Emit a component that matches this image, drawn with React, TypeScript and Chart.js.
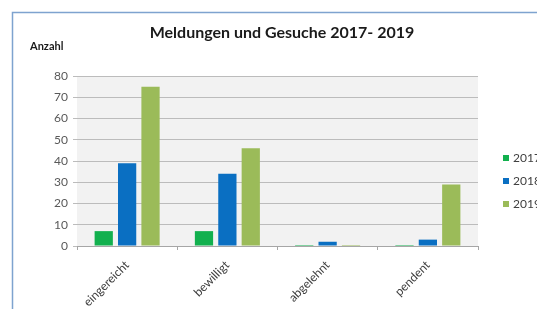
import React, { useEffect, useRef } from 'react';
import { Chart, registerables } from 'chart.js';

Chart.register(...registerables);

const chartTitle = 'Meldungen und Gesuche 2017- 2019';
const yAxisTitle = 'Anzahl';
const categories = ['eingereicht', 'bewilligt', 'abgelehnt', 'pendent'];
const seriesLabels = ['2017', '2018', '2019'];
const values2017 = [7, 7, 0, 0];
const values2018 = [39, 34, 2, 3];
const values2019 = [75, 46, 0, 29];
const yMin = 0;
const yMax = 80;
const yStep = 10;

const seriesColors = ['#12b04e', '#0a6fc2', '#9bbb59'];
const FONT = 'Lato, "Open Sans", "Liberation Sans", sans-serif';

const decorPlugin = {
  id: 'decor',
  beforeDraw(chart: any) {
    const { ctx, chartArea, width, height } = chart;
    ctx.save();
    ctx.fillStyle = '#ffffff';
    ctx.fillRect(0, 0, width, height);
    ctx.fillStyle = '#f2f2f2';
    ctx.fillRect(chartArea.left, chartArea.top, chartArea.right - chartArea.left, chartArea.bottom - chartArea.top);
    ctx.strokeStyle = '#7ea3cf';
    ctx.lineWidth = 1.5;
    ctx.beginPath();
    ctx.moveTo(12.5, height);
    ctx.lineTo(12.5, 12.5);
    ctx.lineTo(width, 12.5);
    ctx.stroke();
    ctx.restore();
  },
  afterDraw(chart: any) {
    const { ctx, chartArea } = chart;
    ctx.save();
    ctx.fillStyle = '#1a1a1a';
    ctx.textBaseline = 'middle';
    ctx.textAlign = 'center';
    ctx.font = 'bold 16px ' + FONT;
    ctx.fillText(chartTitle, 282, 33);
    ctx.textAlign = 'left';
    ctx.font = 'bold 11px ' + FONT;
    ctx.fillText(yAxisTitle, 30, 46);
    // legend
    ctx.font = '12px ' + FONT;
    const x0 = chartArea.right + 25;
    chart.data.datasets.forEach((ds: any, i: number) => {
      const cy = 158 + i * 23;
      ctx.fillStyle = ds.backgroundColor;
      ctx.fillRect(x0, cy - 3, 6, 6);
      ctx.fillStyle = '#404040';
      ctx.fillText(ds.label, x0 + 10, cy);
    });
    ctx.restore();
  },
};

export default function App() {
  const ref = useRef<HTMLCanvasElement | null>(null);
  useEffect(() => {
    if (!ref.current) return;
    const seriesValues = [values2017, values2018, values2019];
    const chart = new Chart(ref.current, {
      type: 'bar',
      data: {
        labels: categories,
        datasets: seriesLabels.map((label, i) => ({
          label,
          data: seriesValues[i],
          backgroundColor: seriesColors[i],
          borderWidth: 0,
          categoryPercentage: 0.7,
          barPercentage: 0.78,
          minBarLength: 1,
        })),
      },
      options: {
        animation: false,
        responsive: false,
        maintainAspectRatio: false,
        layout: { padding: { top: 76, left: 0, right: 59, bottom: 0 } },
        plugins: {
          legend: { display: false },
          title: { display: false },
          tooltip: { enabled: false },
        },
        scales: {
          x: {
            grid: { drawOnChartArea: false, offset: true, tickLength: 4, color: '#a6a6a6' },
            border: { color: '#a6a6a6' },
            ticks: {
              autoSkip: false,
              minRotation: 45,
              maxRotation: 45,
              padding: 8,
              color: '#404040',
              font: { size: 12, family: FONT },
            },
            afterFit: (s: any) => { s.height = 63; },
          },
          y: {
            min: yMin,
            max: yMax,
            grid: { color: '#bcbcbc', tickLength: 4 },
            border: { display: false },
            ticks: {
              stepSize: yStep,
              padding: 5,
              color: '#595959',
              font: { size: 12, family: FONT },
            },
            afterFit: (s: any) => { s.width = 77; },
          },
        },
      },
      plugins: [decorPlugin],
    });
    return () => chart.destroy();
  }, []);
  return (
    <div style={{ position: 'absolute', left: 0, top: 0, width: 537, height: 309 }}>
      <canvas ref={ref} width={537} height={309} style={{ display: 'block' }} />
    </div>
  );
}
